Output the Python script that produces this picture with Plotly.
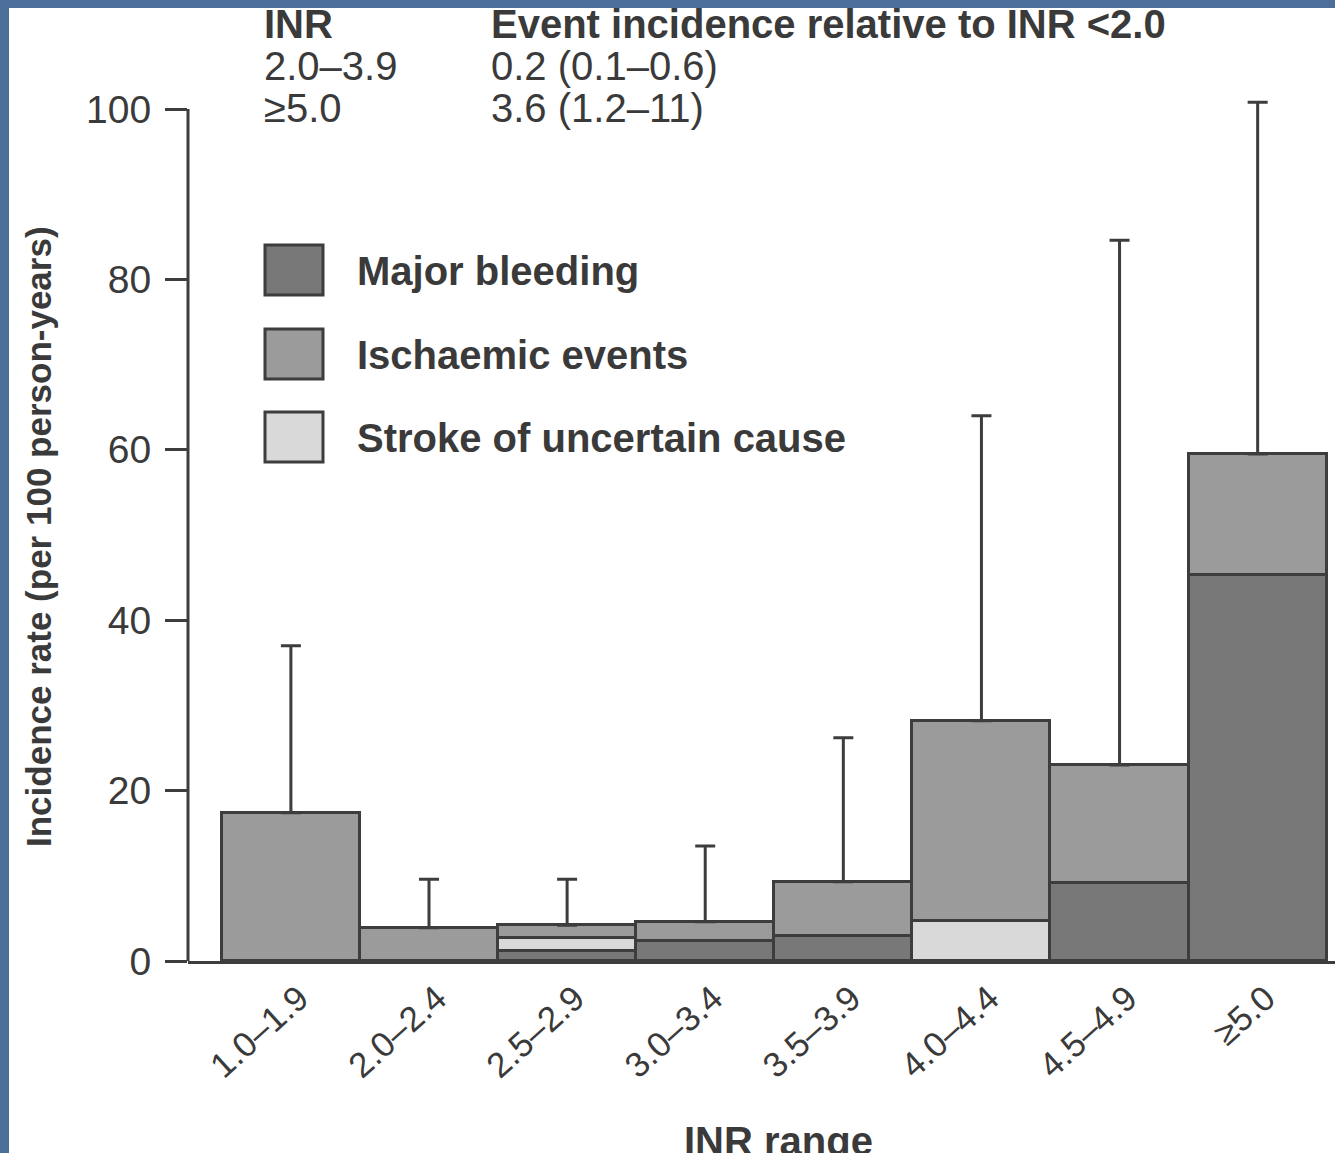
import plotly.graph_objects as go

# ---- data ----
categories = ["1.0–1.9", "2.0–2.4", "2.5–2.9", "3.0–3.4", "3.5–3.9", "4.0–4.4", "4.5–4.9", "≥5.0"]
major_bleeding = [0, 0, 1.2, 2.3, 2.9, 0, 9.2, 45.3]
stroke_uncertain = [0, 0, 1.5, 0, 0, 4.7, 0, 0]
ischaemic = [17.4, 3.9, 1.5, 2.3, 6.4, 23.5, 13.8, 14.2]
upper_ci = [37.0, 9.6, 9.6, 13.5, 26.2, 64.0, 84.6, 100.8]
y_ticks = [0, 20, 40, 60, 80, 100]
legend_labels = ["Major bleeding", "Ischaemic events", "Stroke of uncertain cause"]
header_rows = [["INR", "Event incidence relative to INR <2.0"],
               ["2.0–3.9", "0.2 (0.1–0.6)"],
               ["≥5.0", "3.6 (1.2–11)"]]

totals = [a + b + c for a, b, c in zip(major_bleeding, stroke_uncertain, ischaemic)]
err_up = [u - t for u, t in zip(upper_ci, totals)]

C_MAJOR = "#787878"
C_ISCH = "#9b9b9b"
C_STROKE = "#d9d9d9"
C_LINE = "#3d3d3d"
C_TEXT = "#3a3a3a"
BLUE = "#4b6f98"
FONT = "Liberation Sans, Arial, sans-serif"

W, H = 1335, 1153
L, R, T, B = 188, 0, 92, 192
PW, PH = W - L - R, H - T - B


def px(x):
    return (x - L) / PW


def py(y):
    return (H - B - y) / PH


fig = go.Figure()
for name, vals, col in [("Major bleeding", major_bleeding, C_MAJOR),
                        ("Stroke of uncertain cause", stroke_uncertain, C_STROKE),
                        ("Ischaemic events", ischaemic, C_ISCH)]:
    fig.add_trace(go.Bar(x=categories, y=vals, name=name,
                         marker=dict(color=col, line=dict(color=C_LINE, width=3))))

fig.add_trace(go.Scatter(x=categories, y=totals, mode="markers",
                         marker=dict(opacity=0, size=1), showlegend=False,
                         error_y=dict(type="data", symmetric=False, array=err_up,
                                      arrayminus=[0] * len(err_up),
                                      color=C_LINE, thickness=3, width=10)))

shapes = [
    # white page area inside blue frame
    dict(type="rect", xref="paper", yref="paper", x0=px(9), x1=px(W + 20),
         y0=py(H + 50), y1=py(8), fillcolor="white", line=dict(width=0), layer="below"),
    # y axis line (0..100)
    dict(type="line", xref="paper", yref="y", x0=0, x1=0, y0=0, y1=100,
         line=dict(color=C_LINE, width=3)),
]

annotations = []
leg_cols = [C_MAJOR, C_ISCH, C_STROKE]
leg_tops = [245, 329, 412]
for lab, col, top in zip(legend_labels, leg_cols, leg_tops):
    shapes.append(dict(type="rect", xref="paper", yref="paper",
                       x0=px(265), x1=px(323), y0=py(top + 50), y1=py(top),
                       fillcolor=col, line=dict(color=C_LINE, width=3)))
    annotations.append(dict(xref="paper", yref="paper", x=px(355), y=py(top + 26),
                            text="<b>%s</b>" % lab, showarrow=False, xanchor="left",
                            yanchor="middle", font=dict(size=40, color=C_TEXT, family=FONT)))

row_y = [24, 66, 108]
for i, (a, b) in enumerate(header_rows):
    fa = "<b>%s</b>" % a if i == 0 else a
    fb = "<b>%s</b>" % b if i == 0 else b
    annotations.append(dict(xref="paper", yref="paper", x=px(262), y=py(row_y[i]), text=fa,
                            showarrow=False, xanchor="left", yanchor="middle",
                            font=dict(size=40, color=C_TEXT, family=FONT)))
    annotations.append(dict(xref="paper", yref="paper", x=px(489), y=py(row_y[i]), text=fb,
                            showarrow=False, xanchor="left", yanchor="middle",
                            font=dict(size=40, color=C_TEXT, family=FONT)))

annotations.append(dict(xref="paper", yref="paper", x=px(38), y=py(537),
                        text="<b>Incidence rate (per 100 person-years)</b>", textangle=-90,
                        showarrow=False, xanchor="center", yanchor="middle",
                        font=dict(size=35, color=C_TEXT, family=FONT)))
annotations.append(dict(xref="paper", yref="paper", x=px(778), y=py(1141),
                        text="<b>INR range</b>", showarrow=False, xanchor="center",
                        yanchor="middle", font=dict(size=40, color=C_TEXT, family=FONT)))

fig.update_layout(
    width=W, height=H, margin=dict(l=L, r=R, t=T, b=B, autoexpand=False),
    paper_bgcolor=BLUE, plot_bgcolor="rgba(0,0,0,0)",
    barmode="stack", bargap=0, showlegend=False,
    shapes=shapes, annotations=annotations,
    xaxis=dict(range=[-0.745, 7.56], showline=True, linecolor=C_LINE, linewidth=3,
               showgrid=False, zeroline=False, ticks="", tickangle=-42,
               ticklabelstandoff=0, ticklabelshift=8,
               tickfont=dict(size=35, color=C_TEXT, family=FONT)),
    yaxis=dict(range=[0, 102], showline=False, showgrid=False, zeroline=False,
               tickvals=y_ticks, ticks="outside", ticklen=22, tickwidth=3,
               tickcolor=C_LINE, ticklabelstandoff=6,
               tickfont=dict(size=39, color=C_TEXT, family=FONT)),
)

fig.write_html("out.html", config={"displayModeBar": False},
               post_script="document.body.style.margin='0';document.body.style.overflow='hidden';")
